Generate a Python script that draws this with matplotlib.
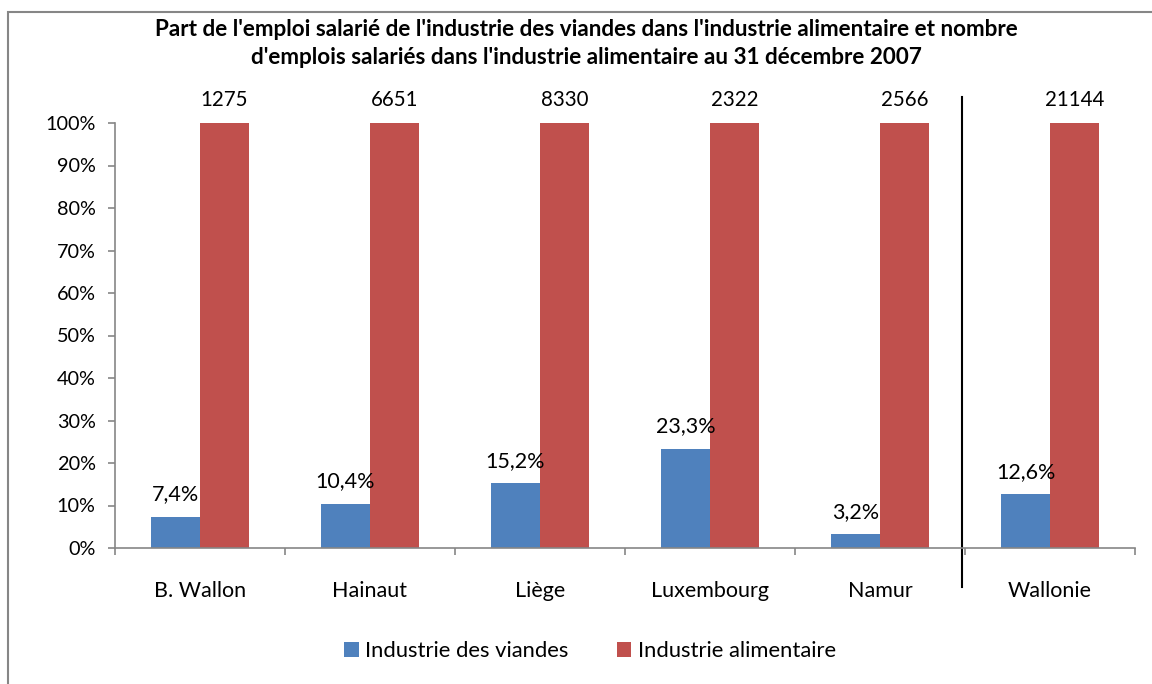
import matplotlib
matplotlib.use("Agg")
import matplotlib.pyplot as plt
from matplotlib.patches import Rectangle, Patch
import matplotlib.transforms as mtransforms

categories = ["B. Wallon", "Hainaut", "Liège", "Luxembourg", "Namur", "Wallonie"]
viandes_pct = [7.4, 10.4, 15.2, 23.3, 3.2, 12.6]
alimentaire_pct = [100, 100, 100, 100, 100, 100]
alimentaire_emplois = [1275, 6651, 8330, 2322, 2566, 21144]
yticks = [0, 10, 20, 30, 40, 50, 60, 70, 80, 90, 100]

plt.rcParams['font.family'] = ['Lato', 'DejaVu Sans']

W, H = 1152, 684
fig = plt.figure(figsize=(W / 100, H / 100), dpi=100)
fig.patch.set_facecolor("white")

# outer frame
fig.patches.append(Rectangle((8 / W, -0.05), 1.2, (H - 12) / H + 0.05,
                             transform=fig.transFigure, fill=False,
                             edgecolor="#868686", linewidth=1.5, zorder=0))

ax = fig.add_axes([115 / W, (H - 548) / H, (1135 - 115) / W, (548 - 123) / H])

blue = "#4F81BD"
red = "#C0504D"
w = 49 / 170
x = list(range(len(categories)))
xb = [i - w / 2 for i in x]
xr = [i + w / 2 for i in x]
bars_b = ax.bar(xb, viandes_pct, width=w, color=blue, label="Industrie des viandes")
bars_r = ax.bar(xr, alimentaire_pct, width=w, color=red, label="Industrie alimentaire")

for rect, v in zip(bars_b, viandes_pct):
    ax.annotate(f"{v:.1f}".replace(".", ",") + "%",
                (rect.get_x() + rect.get_width() / 2, rect.get_height()),
                xytext=(0, 9), textcoords="offset points",
                ha="center", va="bottom", fontsize=15.5, color="black")
for rect, n in zip(bars_r, alimentaire_emplois):
    ax.annotate(str(n),
                (rect.get_x() + rect.get_width() / 2, rect.get_height()),
                xytext=(0, 9), textcoords="offset points",
                ha="center", va="bottom", fontsize=14.8, color="black")

ax.set_xlim(-0.5, len(categories) - 0.5)
ax.set_ylim(0, 100)
ax.set_yticks(yticks)
ax.set_yticklabels([f"{t}%" for t in yticks])
ax.tick_params(axis="y", length=5, width=1.2, color="#868686", labelsize=14.3, pad=9)

ax.set_xticks(x)
ax.set_xticklabels(categories)
ax.tick_params(axis="x", which="major", length=0, labelsize=15.5, pad=24)
ax.set_xticks([i - 0.5 for i in range(len(categories) + 1)], minor=True)
ax.tick_params(axis="x", which="minor", length=5, width=1.2, color="#868686")

for s in ["top", "right"]:
    ax.spines[s].set_visible(False)
for s in ["left", "bottom"]:
    ax.spines[s].set_color("#868686")
    ax.spines[s].set_linewidth(1.2)

# separator line between provinces and Wallonie
trans = mtransforms.blended_transform_factory(ax.transData, ax.transAxes)
ax.plot([4.485, 4.485], [-0.092, 1.061], color="black", linewidth=1.5,
        transform=trans, clip_on=False)

fig.text(586 / W, 1 - 30 / H,
         "Part de l'emploi salarié de l'industrie des viandes dans l'industrie alimentaire et nombre",
         ha="center", va="center", fontsize=16.2, fontweight="bold")
fig.text(586 / W, 1 - 58 / H,
         "d'emplois salariés dans l'industrie alimentaire au 31 décembre 2007",
         ha="center", va="center", fontsize=16.2, fontweight="bold")

handles = [Patch(facecolor=blue), Patch(facecolor=red)]
fig.legend(handles, ["Industrie des viandes", "Industrie alimentaire"],
           loc="center", bbox_to_anchor=(590 / W, 1 - 651 / H), ncol=2,
           frameon=False, fontsize=15.8, handlelength=0.65, handleheight=0.65,
           handletextpad=0.3, columnspacing=2.2)

fig.savefig("out.png", dpi=100, facecolor="white")
